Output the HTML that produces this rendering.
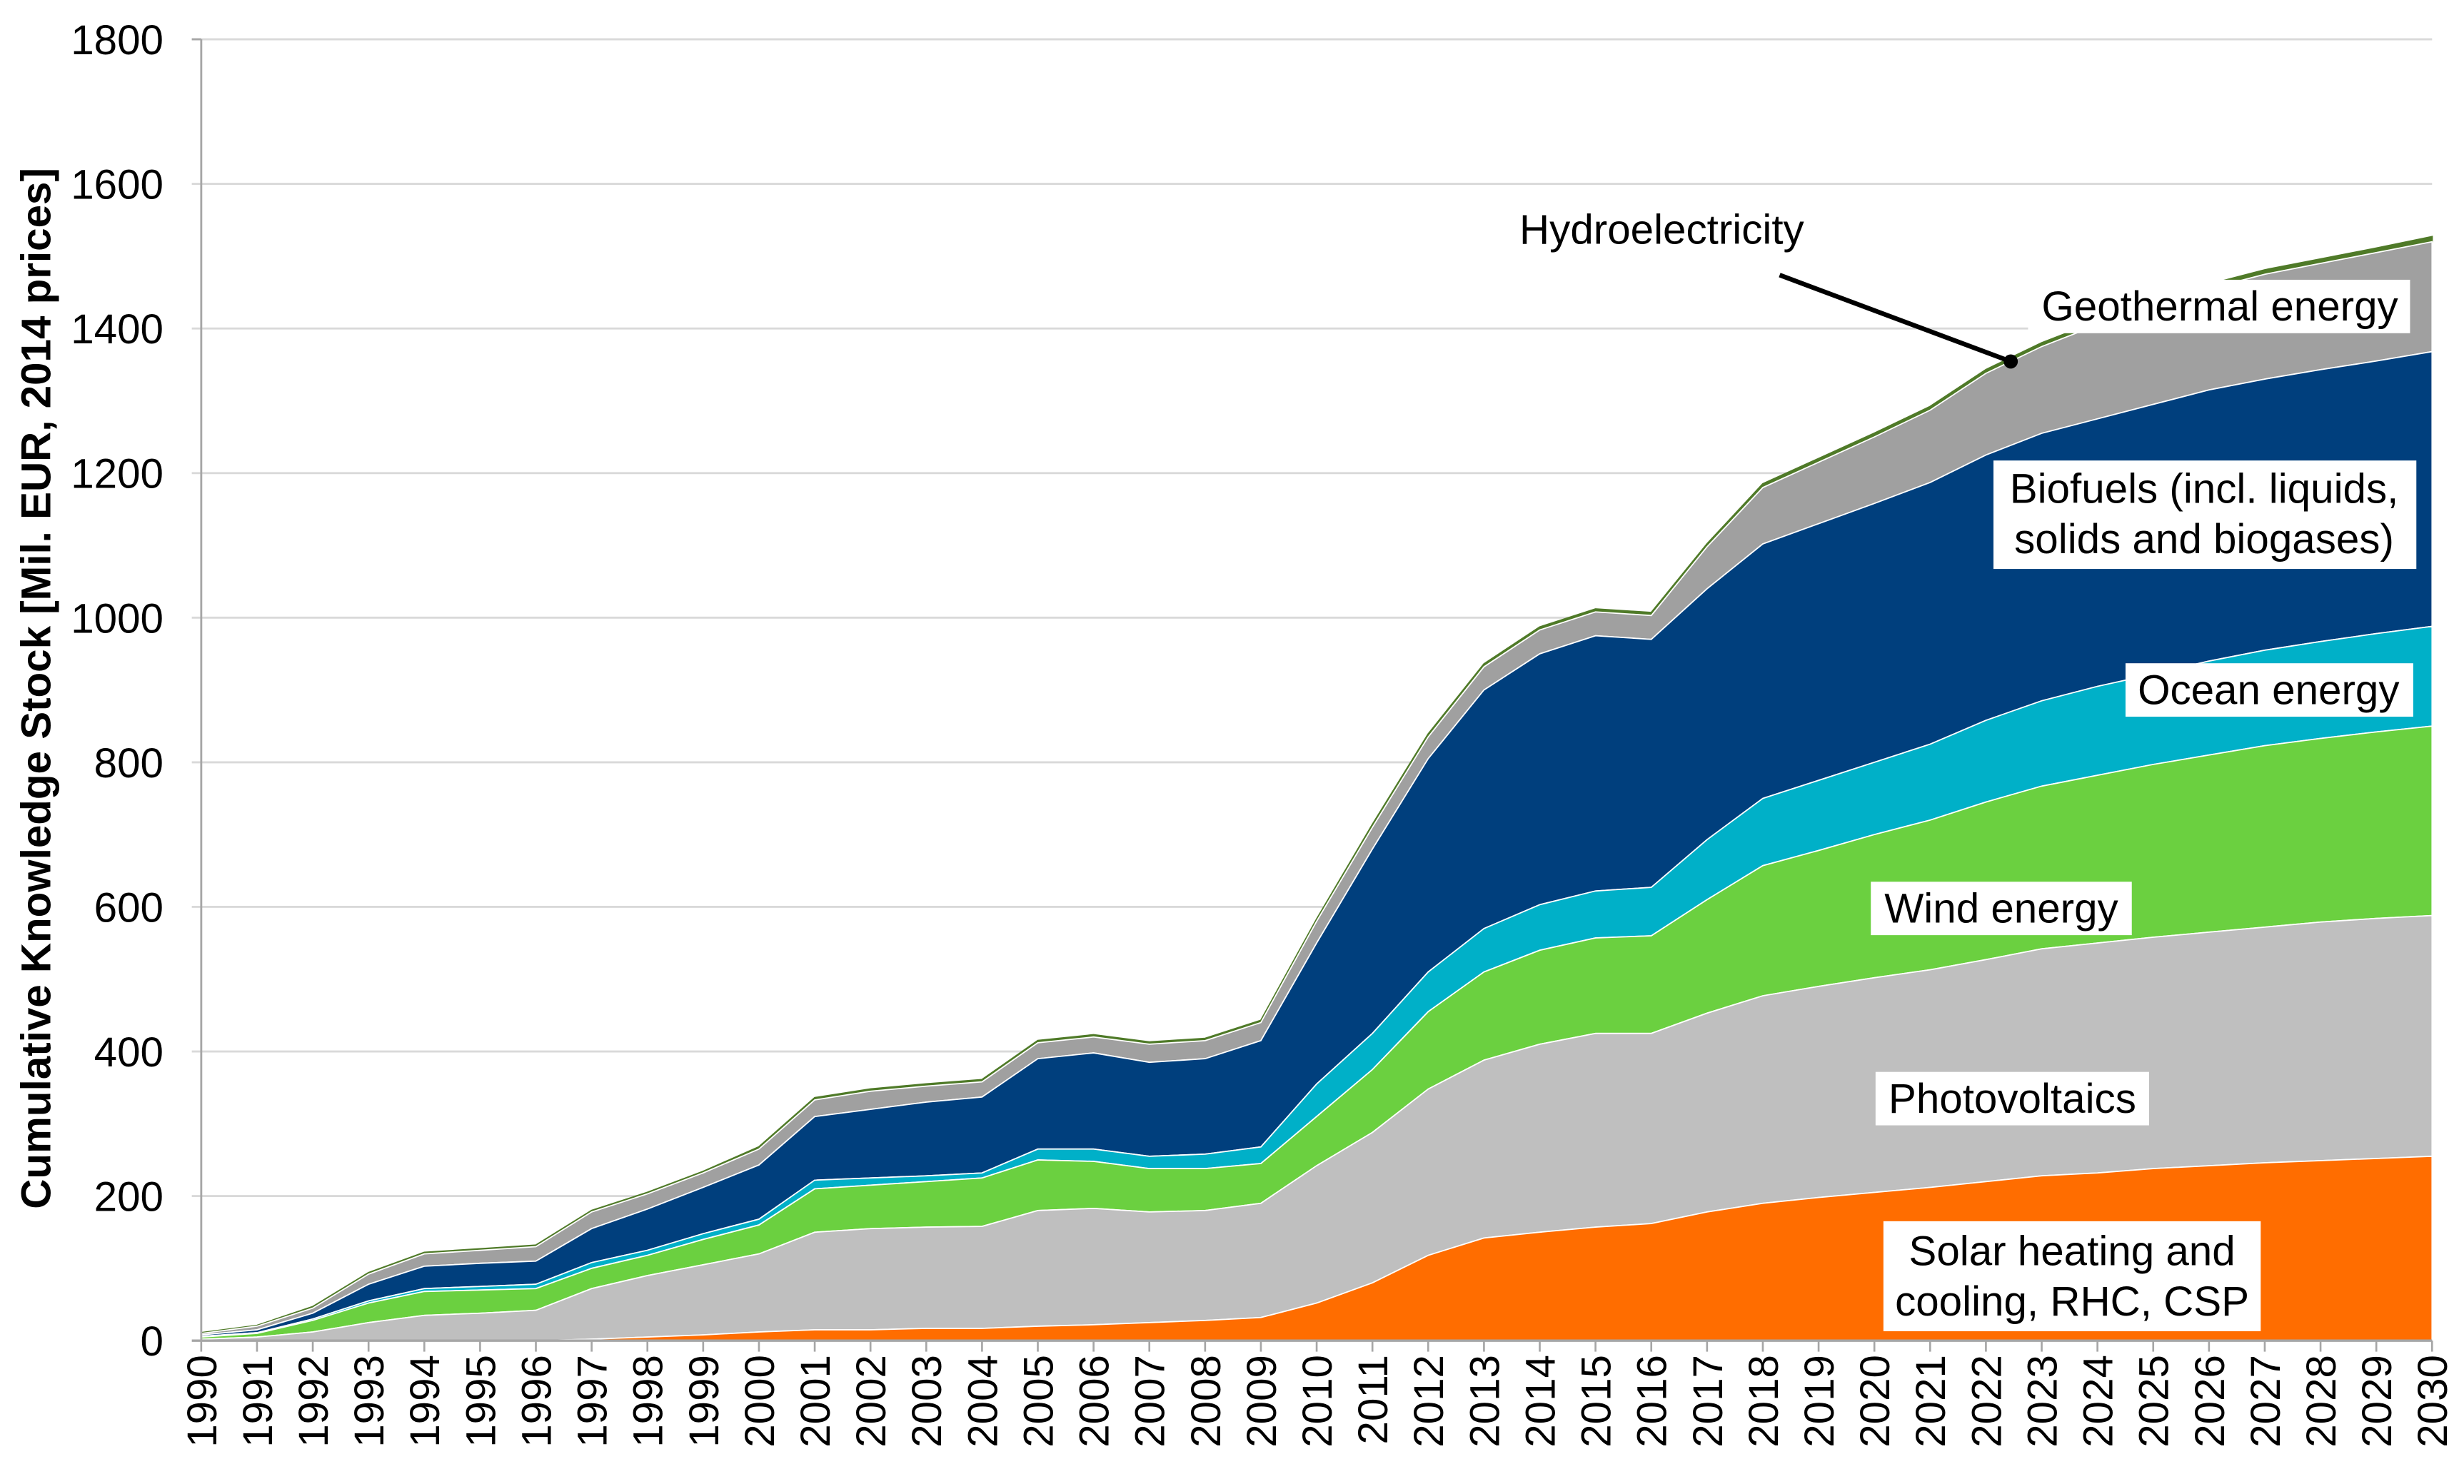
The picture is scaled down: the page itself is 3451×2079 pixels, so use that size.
<!DOCTYPE html>
<html><head><meta charset="utf-8"><style>
html,body{margin:0;padding:0;background:#fff}
svg{display:block}
text{font-family:"Liberation Sans",Arial,sans-serif}
</style></head><body>
<svg id="chart" width="3451" height="2079" viewBox="0 0 1567.3 944.2" xmlns="http://www.w3.org/2000/svg">
<g id="grid"></g>
<g id="areas"></g>
<g id="axes"></g>
<text transform="translate(32,438) rotate(-90)" text-anchor="middle" font-size="26.5" font-weight="bold" fill="#000">Cumulative Knowledge Stock [Mil. EUR, 2014 prices]</text>
<g font-size="26.5" fill="#000" text-anchor="middle">
  <text x="1057" y="155">Hydroelectricity</text>
  <line x1="1132" y1="175" x2="1279" y2="230" stroke="#000" stroke-width="3"/>
  <circle cx="1279" cy="230" r="4.5" fill="#000"/>
  <rect x="1290" y="178" width="243" height="34" fill="#fff"/>
  <text x="1412" y="204">Geothermal energy</text>
  <rect x="1268" y="293" width="269" height="69" fill="#fff"/>
  <text x="1402" y="320">Biofuels (incl. liquids,</text>
  <text x="1402" y="352">solids and biogases)</text>
  <rect x="1352" y="422" width="183" height="34" fill="#fff"/>
  <text x="1443" y="448">Ocean energy</text>
  <rect x="1190" y="561" width="166" height="34" fill="#fff"/>
  <text x="1273" y="587">Wind energy</text>
  <rect x="1193" y="682" width="174" height="34" fill="#fff"/>
  <text x="1280" y="708">Photovoltaics</text>
  <rect x="1198" y="777" width="240" height="70" fill="#fff"/>
  <text x="1318" y="805">Solar heating and</text>
  <text x="1318" y="837">cooling, RHC, CSP</text>
</g>
</svg>
<script>
const years = [];
for (let y = 1990; y <= 2030; y++) years.push(y);
// cumulative stacked tops (Mil. EUR)
const solarTop = [0,0,0,0,0,0,0,2,5,8,12,15,15,17,17,20,22,25,28,32,52,80,118,142,150,157,162,178,190,198,205,212,220,228,232,238,242,246,249,252,255];
const pvTop = [2,5,12,25,35,38,42,72,90,105,120,150,155,157,158,180,183,178,180,190,242,288,348,388,410,425,425,453,477,490,502,513,527,542,550,558,565,572,579,584,588];
const windTop = [5,10,28,52,68,70,72,100,118,140,160,210,215,220,225,250,248,238,238,245,310,375,455,510,540,557,560,610,657,678,700,720,745,767,782,797,810,823,833,842,850];
const oceanTop = [6,11,30,55,72,75,78,108,125,148,168,222,225,228,232,265,265,255,258,268,355,425,510,570,603,622,627,693,750,775,800,825,858,885,905,922,940,955,967,978,988];
const bioTop = [8,15,38,78,103,107,110,155,182,212,243,310,320,330,337,390,398,385,390,415,550,680,805,900,950,975,970,1040,1102,1130,1158,1187,1225,1255,1275,1295,1315,1330,1343,1355,1368];
const geoTop = [10,20,45,92,120,125,130,178,203,232,265,333,345,352,358,412,420,410,415,440,580,710,835,932,983,1008,1003,1098,1180,1215,1250,1287,1338,1375,1405,1430,1455,1475,1490,1505,1520];
const hydroTop = [11,21,47,94,122,127,132,180,205,234,268,336,348,355,361,415,423,413,418,443,583,714,839,936,987,1012,1007,1102,1185,1220,1255,1292,1343,1380,1410,1436,1461,1481,1496,1511,1527];
const yTicks = [0,200,400,600,800,1000,1200,1400,1600,1800];

const NS = 'http://www.w3.org/2000/svg';
const X0 = 128, X1 = 1547, Y0 = 853, Y1 = 25;
const xs = i => X0 + (X1 - X0) * i / (years.length - 1);
const ys = v => Y0 - (Y0 - Y1) * v / 1800;
function mk(tag, attrs, parent) {
  const e = document.createElementNS(NS, tag);
  for (const k in attrs) e.setAttribute(k, attrs[k]);
  parent.appendChild(e);
  return e;
}
const grid = document.getElementById('grid');
const axes = document.getElementById('axes');
const areas = document.getElementById('areas');

yTicks.forEach(v => {
  if (v > 0) {
    const g = mk('line', {x1: X0 - 6, x2: X1, y1: ys(v), y2: ys(v), stroke: '#d9d9d9', 'stroke-width': 1.3}, grid);
    
    
  }
  const t = mk('text', {x: X0 - 24, y: ys(v) + 9.5, 'text-anchor': 'end', 'font-size': 26.5, fill: '#000'}, axes);
  t.textContent = v;
  
  
});

const layers = [
  ['hydro', hydroTop, geoTop, '#4f7a28'],
  ['geothermal', geoTop, bioTop, '#a0a0a0'],
  ['biofuels', bioTop, oceanTop, '#003f7d'],
  ['ocean', oceanTop, windTop, '#00b0c8'],
  ['wind', windTop, pvTop, '#6bd040'],
  ['pv', pvTop, solarTop, '#bfbfbf'],
  ['solar', solarTop, null, '#ff6d00']
];
const names = ['hydro-area','geothermal-area','biofuels-area','ocean-area','wind-area','pv-area','solar-area'];
layers.forEach((L, li) => {
  const top = L[1], bot = L[2];
  let d = '';
  top.forEach((v, i) => { d += (i ? 'L' : 'M') + xs(i).toFixed(2) + ',' + ys(v).toFixed(2); });
  for (let i = top.length - 1; i >= 0; i--) d += 'L' + xs(i).toFixed(2) + ',' + ys(bot ? bot[i] : 0).toFixed(2);
  d += 'Z';
  const p = mk('path', {d: d, fill: L[3], stroke: li === 0 ? '#4f7a28' : '#ffffff', 'stroke-width': li === 0 ? 1 : 0.8}, areas);
  
  
});

const ya = mk('line', {x1: X0, x2: X0, y1: Y1, y2: Y0, stroke: '#a6a6a6', 'stroke-width': 1.3}, axes);


const xa = mk('line', {x1: X0 - 6, x2: X1, y1: Y0, y2: Y0, stroke: '#a6a6a6', 'stroke-width': 1.5}, axes);


const tt = mk('line', {x1: X0 - 6, x2: X0, y1: Y1, y2: Y1, stroke: '#a6a6a6', 'stroke-width': 1.3}, axes);



years.forEach((yr, i) => {
  const tk = mk('line', {x1: xs(i), x2: xs(i), y1: Y0, y2: Y0 + 7, stroke: '#a6a6a6', 'stroke-width': 1.2}, axes);
  
  
  const t = mk('text', {transform: 'translate(' + (xs(i) + 9.5) + ',' + (Y0 + 9) + ') rotate(-90)', 'text-anchor': 'end', 'font-size': 26.5, fill: '#000'}, axes);
  t.textContent = yr;
  
  
});
</script>
</body></html>
